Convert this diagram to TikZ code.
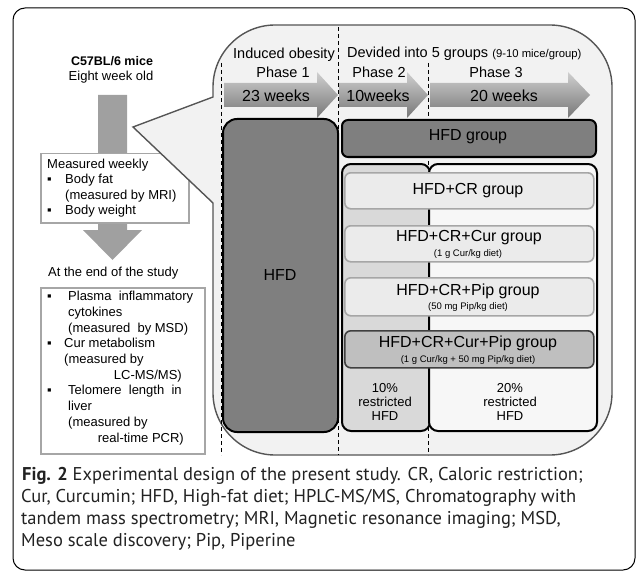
\documentclass[tikz,border=0pt]{standalone}
\usepackage{fontspec}
\setmainfont{Liberation Sans}
\newfontfamily\capfont{PT Sans}
\newcommand\sz[1]{\fontsize{#1}{#1}\selectfont}
\definecolor{calloutfill}{HTML}{F2F2F2}
\definecolor{calloutdraw}{HTML}{555555}
\definecolor{arrowgray}{HTML}{A0A0A0}
\definecolor{boxborder}{HTML}{A6A6A6}
\definecolor{hfdfill}{HTML}{7F7F7F}
\definecolor{leftfill}{HTML}{D9D9D9}
\definecolor{rightfill}{HTML}{F7F7F7}
\definecolor{groupfill}{HTML}{EBEBEB}
\definecolor{groupdraw}{HTML}{A6A6A6}
\definecolor{lastfill}{HTML}{BFBFBF}
\definecolor{lastdraw}{HTML}{404040}
\definecolor{arrtop}{HTML}{CFCFCF}
\definecolor{arrbot}{HTML}{777777}
\definecolor{captext}{HTML}{222222}
\begin{document}
\begin{tikzpicture}[x=1pt,y=-1pt,
  txt/.style={inner sep=0pt, font=\sz{13}},
  toptxt/.style={inner sep=0pt, font=\sz{14.5}},
  wktxt/.style={inner sep=0pt, font=\sz{16}},
  grptxt/.style={inner sep=0pt, font=\sz{16}},
  subtxt/.style={inner sep=0pt, font=\sz{9.5}},
  captxt/.style={inner sep=0pt, font=\capfont\sz{18.5}, anchor=mid west, text=captext},
  lbox/.style={draw=boxborder, line width=1.5pt, fill=white, anchor=north west, inner sep=0pt},
  darkbox/.style={draw=black, line width=2pt, fill=hfdfill, anchor=north west, inner sep=0pt},
  restrbox/.style={draw=black, line width=2pt, anchor=north west, inner sep=0pt, rounded corners=9pt},
  grpbox/.style={draw=groupdraw, line width=1.6pt, fill=groupfill, anchor=north west, inner sep=0pt, rounded corners=6pt, minimum width=249pt},
  phasearrow/.style={top color=arrtop, bottom color=arrbot},
  divider/.style={draw=black, line width=0.9pt, dash pattern=on 4pt off 3pt},
]
\useasboundingbox (0,0) rectangle (636,580);
% outer frame
\draw[line width=1pt, rounded corners=12pt] (13,8) rectangle (635,570);

% left column: big arrow
\fill[arrowgray] (98,95) -- (127,95) -- (127,230) -- (142,230) -- (112.5,260) -- (83,230) -- (98,230) -- cycle;

\node[txt, font=\bfseries\sz{12.5}] (mice) at (112,61) {C57BL/6 mice};
\node[txt] (age) at (111,77) {Eight week old};

\node[lbox, minimum width=148pt, minimum height=69pt] (box1) at (40,153) {};
\node[txt, anchor=mid west] (mw) at (47,166) {Measured weekly};
\node[txt, anchor=mid west] (b1a) at (47,181) {▪};
\node[txt, anchor=mid west] (t1a) at (65,181) {Body fat};
\node[txt, anchor=mid west] (t1b) at (65,197) {(measured by MRI)};
\node[txt, anchor=mid west] (b1b) at (47,212) {▪};
\node[txt, anchor=mid west] (t1c) at (65,212) {Body weight};

\node[txt, anchor=mid west] (end) at (48,274) {At the end of the study};

\node[lbox, minimum width=164pt, minimum height=166pt] (box2) at (40,287) {};
\node[txt, anchor=mid west] (b2a) at (47,298) {▪};
\node[txt, anchor=mid west] (t2a) at (68,298) {Plasma\ \ inflammatory};
\node[txt, anchor=mid west] (t2b) at (68,314) {cytokines};
\node[txt, anchor=mid west] (t2c) at (68,330) {(measured\ \ by MSD)};
\node[txt, anchor=mid west] (b2b) at (47,345) {▪};
\node[txt, anchor=mid west] (t2d) at (64,345) {Cur metabolism};
\node[txt, anchor=mid west] (t2e) at (64,361) {(measured by};
\node[txt, anchor=mid east] (t2f) at (182,377) {LC-MS/MS)};
\node[txt, anchor=mid west] (b2c) at (47,392) {▪};
\node[txt, anchor=mid west] (t2g) at (68,392) {Telomere\ \ length\ \ in};
\node[txt, anchor=mid west] (t2h) at (68,408) {liver};
\node[txt, anchor=mid west] (t2i) at (68,424) {(measured by};
\node[txt, anchor=mid east] (t2j) at (184,440) {real-time PCR)};

% callout
\draw[fill=calloutfill, draw=calloutdraw, line width=1.4pt]
  (133,127) -- (213,97) -- (213,87) .. controls (213,53) and (241,25) .. (275,25)
  -- (550,25) .. controls (584,25) and (612,53) .. (612,87)
  -- (612,393) .. controls (612,427) and (584,455) .. (550,455)
  -- (275,455) .. controls (241,455) and (213,427) .. (213,393)
  -- (213,203) -- cycle;

% phase arrows
\shade[phasearrow] (224,83) -- (317,83) -- (317,72) -- (338,95) -- (317,118) -- (317,107) -- (224,107) -- cycle;
\shade[phasearrow] (339,83) -- (407,83) -- (407,72) -- (428,95) -- (407,118) -- (407,107) -- (339,107) -- cycle;
\shade[phasearrow] (430,83) -- (568,83) -- (568,72) -- (590,95) -- (568,118) -- (568,107) -- (430,107) -- cycle;

% dividers
\draw[divider] (221,63) -- (221,455);
\draw[divider] (338,27) -- (338,455);
\draw[divider] (428,63) -- (428,455);

% top texts
\node[toptxt] (induced) at (284,55) {Induced obesity};
\node[toptxt] (ph1) at (283,72) {Phase 1};
\node[toptxt, anchor=mid west] (devided) at (347,55) {Devided into 5 groups {\sz{11.3}(9-10 mice/group)}};
\node[toptxt] (ph2) at (379,72) {Phase 2};
\node[toptxt] (ph3) at (496,72) {Phase 3};
\node[wktxt] (w23) at (276,96) {23 weeks};
\node[wktxt] (w10) at (378,96) {10weeks};
\node[wktxt] (w20) at (504,96) {20 weeks};

% HFD boxes
\node[darkbox, rounded corners=14pt, minimum width=115pt, minimum height=313pt] (hfd) at (222,118) {};
\node[grptxt] (hfdt) at (280,275) {HFD};
\node[darkbox, rounded corners=6pt, minimum width=254pt, minimum height=37pt] (hfdg) at (341,119) {};
\node[grptxt] (hfdgt) at (468,137) {HFD group};

% restricted boxes
\node[restrbox, fill=leftfill, minimum width=88pt, minimum height=267pt] (r10) at (341,163) {};
\node[restrbox, fill=rightfill, minimum width=168pt, minimum height=267pt] (r20) at (428,163) {};

% group boxes
\node[grpbox, minimum height=36pt] (g1) at (344,172) {};
\node[grptxt] (g1t) at (468,191) {HFD+CR group};
\node[grpbox, minimum height=36pt] (g2) at (344,225) {};
\node[grptxt] (g2t) at (469,238) {HFD+CR+Cur group};
\node[subtxt] (g2s) at (468,254) {(1 g Cur/kg diet)};
\node[grpbox, minimum height=38pt] (g3) at (344,277) {};
\node[grptxt] (g3t) at (468,291) {HFD+CR+Pip group};
\node[subtxt] (g3s) at (468,307) {(50 mg Pip/kg diet)};
\node[grpbox, fill=lastfill, draw=lastdraw, minimum height=37pt] (g4) at (344,330) {};
\node[grptxt] (g4t) at (468,343) {HFD+CR+Cur+Pip group};
\node[subtxt] (g4s) at (468,360) {(1 g Cur/kg + 50 mg Pip/kg diet)};

\node[txt, align=center] (p10) at (385,402) {10\%\\[1pt]restricted\\[1pt]HFD};
\node[txt, align=center] (p20) at (510,402) {20\%\\[1pt]restricted\\[1pt]HFD};

% caption
\node[captxt] (cap1) at (22,478) {\textbf{Fig. 2} Experimental design of the present study. CR, Caloric restriction;};
\node[captxt] (cap2) at (21,500) {Cur, Curcumin; HFD, High-fat diet; HPLC-MS/MS, Chromatography with};
\node[captxt] (cap3) at (21,522) {tandem mass spectrometry; MRI, Magnetic resonance imaging; MSD,};
\node[captxt] (cap4) at (21,544) {Meso scale discovery; Pip, Piperine};
\end{tikzpicture}
\end{document}
